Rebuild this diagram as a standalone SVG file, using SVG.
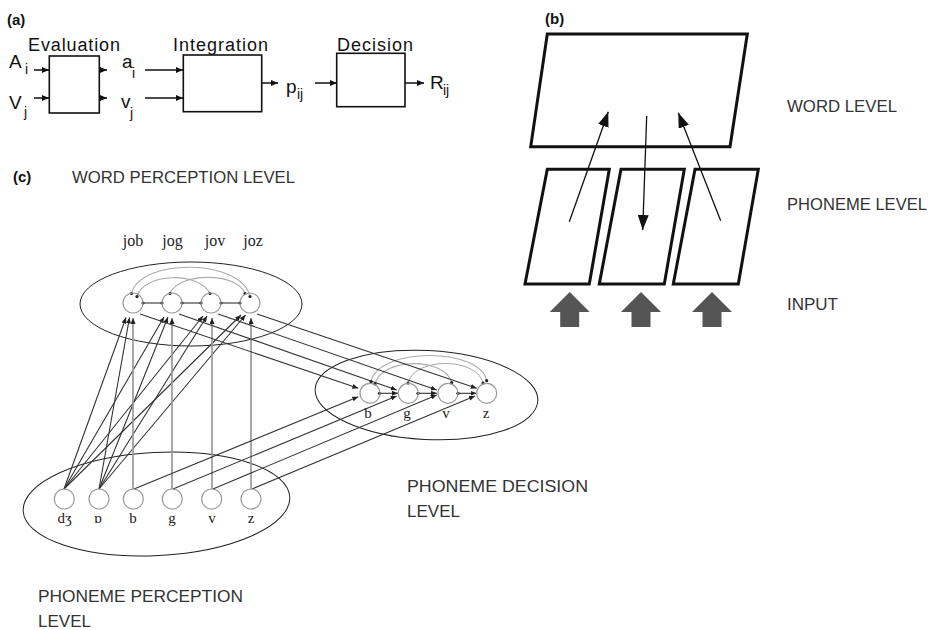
<svg xmlns="http://www.w3.org/2000/svg" width="930" height="630" viewBox="0 0 930 630">
<defs>
<style>
.pl{font-family:"Liberation Sans",Arial,sans-serif;font-size:15px;font-weight:bold;fill:#111}
.ha{font-family:"Liberation Sans",Arial,sans-serif;font-size:18px;fill:#111}
.sym{font-family:"Liberation Sans",Arial,sans-serif;font-size:19px;fill:#111}
.sub{font-size:14px}
.lbl{font-family:"Liberation Sans",Arial,sans-serif;font-size:17px;fill:#333}
.ser{font-family:"Liberation Serif","Times New Roman",serif;fill:#222;text-anchor:middle}
.box{fill:none;stroke:#111;stroke-width:1.6}
.ln{fill:none;stroke:#111;stroke-width:1.5}
.pg{fill:none;stroke:#111;stroke-width:3}
.thin{fill:none;stroke:#111;stroke-width:1.3}
.big{fill:#555}
.ell{fill:none;stroke:#222;stroke-width:1}
.unit{fill:none;stroke:#9a9a9a;stroke-width:1.2}
.wire{fill:none;stroke:#333;stroke-width:1.1}
.vert{fill:none;stroke:#999;stroke-width:1.7}
.lat{fill:none;stroke:#aaa;stroke-width:1.1}
.dot{fill:#222}
</style>
<marker id="ta" markerWidth="7" markerHeight="6" refX="7" refY="3" orient="auto" markerUnits="userSpaceOnUse"><path d="M0,0 L7,3 L0,6 z" fill="#111"/></marker>
<marker id="tb" markerWidth="15" markerHeight="11" refX="15" refY="5.5" orient="auto" markerUnits="userSpaceOnUse"><path d="M0,0 L15,5.5 L0,11 z" fill="#111"/></marker>
<marker id="tc" markerWidth="6" markerHeight="5" refX="6" refY="2.5" orient="auto" markerUnits="userSpaceOnUse"><path d="M0,0 L6,2.5 L0,5 z" fill="#222"/></marker>
</defs>
<rect width="930" height="630" fill="#fff"/>

<!-- panel (a): evaluation / integration / decision stages -->
<text class="pl" x="7" y="25">(a)</text>
<g id="evaluation">
<text class="ha" x="28" y="51" textLength="92" lengthAdjust="spacing">Evaluation</text>
<rect class="box" x="49.3" y="56" width="50" height="57"/>
</g>
<g id="integration">
<text class="ha" x="173" y="51" textLength="95" lengthAdjust="spacing">Integration</text>
<rect class="box" x="183.3" y="55" width="78.4" height="56.7"/>
</g>
<g id="decision">
<text class="ha" x="337" y="51" textLength="76" lengthAdjust="spacing">Decision</text>
<rect class="box" x="336.7" y="53.3" width="68.3" height="53.4"/>
</g>
<g id="a-symbols">
<text class="sym" x="9" y="68">A</text><text class="sym sub" x="25" y="74">i</text>
<text class="sym" x="9" y="109">V</text><text class="sym sub" x="24" y="117">j</text>
<text class="sym" x="122" y="68">a</text><text class="sym sub" x="132" y="78">i</text>
<text class="sym" x="121" y="108">v</text><text class="sym sub" x="130" y="118">j</text>
<text class="sym" x="286" y="93">p</text><text class="sym sub" x="297" y="99">ij</text>
<text class="sym" x="430" y="89">R</text><text class="sym sub" x="443" y="95">ij</text>
</g>
<g id="a-connectors">
<line class="ln" x1="34" y1="70" x2="49" y2="70" marker-end="url(#ta)"/>
<line class="ln" x1="34" y1="98" x2="49" y2="98" marker-end="url(#ta)"/>
<line class="ln" x1="99" y1="70" x2="107" y2="70" marker-end="url(#ta)"/>
<line class="ln" x1="99" y1="98" x2="107" y2="98" marker-end="url(#ta)"/>
<line class="ln" x1="145" y1="70" x2="183" y2="70" marker-end="url(#ta)"/>
<line class="ln" x1="145" y1="98" x2="183" y2="98" marker-end="url(#ta)"/>
<line class="ln" x1="262" y1="83" x2="278" y2="83" marker-end="url(#ta)"/>
<line class="ln" x1="315" y1="83" x2="337" y2="83" marker-end="url(#ta)"/>
<line class="ln" x1="405" y1="83" x2="424" y2="83" marker-end="url(#ta)"/>
</g>

<!-- panel (b): word level over phoneme level -->
<text class="pl" x="545" y="24">(b)</text>
<g id="word-level">
<polygon class="pg" points="547.3,34 747.3,34 730,146.7 530.7,146.7"/>
</g>
<g id="phoneme-1"><polygon class="pg" points="547.3,169.3 609.3,169.3 589.3,284 525,284"/></g>
<g id="phoneme-2"><polygon class="pg" points="621,169.3 684.3,169.3 664.3,284 599.3,284"/></g>
<g id="phoneme-3"><polygon class="pg" points="695,169.3 758.3,169.3 738.3,284 673.3,284"/></g>
<g id="input-arrows">
<polygon class="big" points="549.7,312 569.7,292 589.7,312 579.2,312 579.2,327 560.2,327 560.2,312"/>
<polygon class="big" points="621,312 641,292 661,312 650.5,312 650.5,327 631.5,327 631.5,312"/>
<polygon class="big" points="692,312 712,292 732,312 721.5,312 721.5,327 702.5,327 702.5,312"/>
</g>
<g id="b-connectors">
<line class="thin" x1="569.3" y1="221.7" x2="608.3" y2="111.7" marker-end="url(#tb)"/>
<line class="thin" x1="646.7" y1="116" x2="642.7" y2="230" marker-end="url(#tb)"/>
<line class="thin" x1="720.7" y1="220.7" x2="678.3" y2="112.7" marker-end="url(#tb)"/>
</g>
<text class="lbl" x="787" y="111.7" textLength="110" lengthAdjust="spacingAndGlyphs">WORD LEVEL</text>
<text class="lbl" x="787" y="210" textLength="140" lengthAdjust="spacingAndGlyphs">PHONEME LEVEL</text>
<text class="lbl" x="787" y="310">INPUT</text>

<!-- panel (c): word perception, phoneme perception and phoneme decision layers -->
<text class="pl" x="13" y="182">(c)</text>
<text class="lbl" x="72" y="183" textLength="223" lengthAdjust="spacingAndGlyphs">WORD PERCEPTION LEVEL</text>
<text class="lbl" x="407" y="492" textLength="181" lengthAdjust="spacingAndGlyphs">PHONEME DECISION</text>
<text class="lbl" x="407" y="517">LEVEL</text>
<text class="lbl" x="38" y="602" textLength="205" lengthAdjust="spacingAndGlyphs">PHONEME PERCEPTION</text>
<text class="lbl" x="38" y="627">LEVEL</text>

<g id="layers">
<ellipse class="ell" cx="191" cy="304" rx="111" ry="42"/>
<ellipse class="ell" cx="426.5" cy="395" rx="111.5" ry="44.5" transform="rotate(3 426.5 395)"/>
<ellipse class="ell" cx="156.5" cy="504" rx="133.5" ry="51.5" transform="rotate(-3 156.5 504)"/>
</g>

<g id="connectors">
<!-- lateral links among word units -->
<path class="lat" d="M131.5,293.5 C140,258 241,258 250,296.5"/>
<path class="lat" d="M137,296 C145,272 200,272 210,293.5"/>
<path class="lat" d="M170,293.5 C178,272 238,272 245,293.5"/>
<line class="wire" x1="143" y1="303" x2="162" y2="303"/>
<line class="wire" x1="182" y1="303" x2="201" y2="303"/>
<line class="wire" x1="221" y1="303" x2="240" y2="303"/>
<!-- lateral links among decision units -->
<path class="lat" d="M371,381.7 C378,347 480,347 486.7,380.7"/>
<path class="lat" d="M375,384 C382,357 445,357 451.7,382.7"/>
<path class="lat" d="M408,383 C414,357 477,357 483,383"/>
<line class="wire" x1="379.5" y1="393.3" x2="398" y2="393.3" marker-end="url(#tc)"/>
<line class="wire" x1="418" y1="393.3" x2="437" y2="393.3" marker-end="url(#tc)"/>
<line class="wire" x1="458" y1="393.3" x2="476.5" y2="393.3" marker-end="url(#tc)"/>
<!-- dʒ and ɒ feed every word unit -->
<line class="wire" x1="64" y1="489" x2="126" y2="317.5" marker-end="url(#tc)"/>
<line class="wire" x1="64" y1="489" x2="164" y2="317" marker-end="url(#tc)"/>
<line class="wire" x1="64" y1="489" x2="203" y2="316" marker-end="url(#tc)"/>
<line class="wire" x1="64" y1="489" x2="241" y2="315" marker-end="url(#tc)"/>
<line class="wire" x1="99" y1="489" x2="129.5" y2="317.5" marker-end="url(#tc)"/>
<line class="wire" x1="99" y1="489" x2="168" y2="317" marker-end="url(#tc)"/>
<line class="wire" x1="99" y1="489" x2="207" y2="316" marker-end="url(#tc)"/>
<line class="wire" x1="99" y1="489" x2="245.5" y2="315" marker-end="url(#tc)"/>
<!-- final consonant to its word unit -->
<line class="vert" x1="133" y1="489" x2="133" y2="318" marker-end="url(#tc)"/>
<line class="vert" x1="172" y1="489" x2="172" y2="318" marker-end="url(#tc)"/>
<line class="vert" x1="212" y1="489" x2="212" y2="318" marker-end="url(#tc)"/>
<line class="vert" x1="251" y1="489" x2="251" y2="318" marker-end="url(#tc)"/>
<!-- word units to decision units -->
<line class="wire" x1="140" y1="314" x2="358.3" y2="388.3" marker-end="url(#tc)"/>
<line class="wire" x1="179" y1="314" x2="396.7" y2="390" marker-end="url(#tc)"/>
<line class="wire" x1="218" y1="314" x2="436.7" y2="390" marker-end="url(#tc)"/>
<line class="wire" x1="257" y1="314" x2="476.7" y2="388.3" marker-end="url(#tc)"/>
<!-- consonant perception units to decision units -->
<line class="wire" x1="134" y1="489" x2="358.3" y2="396.7" marker-end="url(#tc)"/>
<line class="wire" x1="173" y1="489" x2="396.7" y2="396" marker-end="url(#tc)"/>
<line class="wire" x1="213" y1="489" x2="436.7" y2="395" marker-end="url(#tc)"/>
<line class="wire" x1="252" y1="489" x2="475" y2="396" marker-end="url(#tc)"/>
<!-- junction dots -->
<g class="dot">
<circle cx="131.5" cy="293.5" r="1.6"/><circle cx="137" cy="296.5" r="1.6"/><circle cx="170" cy="293.5" r="1.6"/>
<circle cx="210" cy="293.5" r="1.6"/><circle cx="245" cy="293.5" r="1.6"/><circle cx="250" cy="296.5" r="1.6"/>
<circle cx="143" cy="303" r="1.6"/><circle cx="162" cy="303" r="1.6"/><circle cx="182" cy="303" r="1.6"/>
<circle cx="201" cy="303" r="1.6"/><circle cx="221" cy="303" r="1.6"/><circle cx="240" cy="303" r="1.6"/>
<circle cx="371" cy="381.7" r="1.6"/><circle cx="375" cy="384" r="1.6"/><circle cx="408" cy="383" r="1.6"/>
<circle cx="451.7" cy="382.7" r="1.6"/><circle cx="483" cy="383" r="1.6"/><circle cx="486.7" cy="380.7" r="1.6"/>
<circle cx="379.5" cy="393.3" r="1.6"/><circle cx="418" cy="393.3" r="1.6"/><circle cx="458" cy="393.3" r="1.6"/>
</g>
</g>

<!-- word perception units -->
<g id="w-job"><circle class="unit" cx="133" cy="303" r="10"/><text class="ser" x="133" y="246" font-size="16">job</text></g>
<g id="w-jog"><circle class="unit" cx="172" cy="303" r="10"/><text class="ser" x="172.5" y="246" font-size="16">jog</text></g>
<g id="w-jov"><circle class="unit" cx="211" cy="303" r="10"/><text class="ser" x="215" y="246" font-size="16">jov</text></g>
<g id="w-joz"><circle class="unit" cx="250" cy="303" r="10"/><text class="ser" x="253" y="246" font-size="16">joz</text></g>

<!-- phoneme decision units -->
<g id="d-b"><circle class="unit" cx="370" cy="393.3" r="10"/><text class="ser" x="368" y="418" font-size="15">b</text></g>
<g id="d-g"><circle class="unit" cx="408.3" cy="393.3" r="10"/><text class="ser" x="407" y="418" font-size="15">g</text></g>
<g id="d-v"><circle class="unit" cx="448" cy="393.3" r="10"/><text class="ser" x="446" y="418" font-size="15">v</text></g>
<g id="d-z"><circle class="unit" cx="486.7" cy="393.3" r="10"/><text class="ser" x="486" y="418" font-size="15">z</text></g>

<!-- phoneme perception units -->
<g id="p-dzh"><circle class="unit" cx="64.3" cy="499" r="10"/><text class="ser" x="64.5" y="523" font-size="15">dʒ</text></g>
<g id="p-o"><circle class="unit" cx="99" cy="499" r="10"/><text class="ser" x="98" y="523" font-size="15">ɒ</text></g>
<g id="p-b"><circle class="unit" cx="133.3" cy="499" r="10"/><text class="ser" x="133" y="523" font-size="15">b</text></g>
<g id="p-g"><circle class="unit" cx="172.3" cy="499" r="10"/><text class="ser" x="172" y="523" font-size="15">g</text></g>
<g id="p-v"><circle class="unit" cx="211.7" cy="499" r="10"/><text class="ser" x="212" y="523" font-size="15">v</text></g>
<g id="p-z"><circle class="unit" cx="251" cy="499" r="10"/><text class="ser" x="251" y="523" font-size="15">z</text></g>
</svg>
